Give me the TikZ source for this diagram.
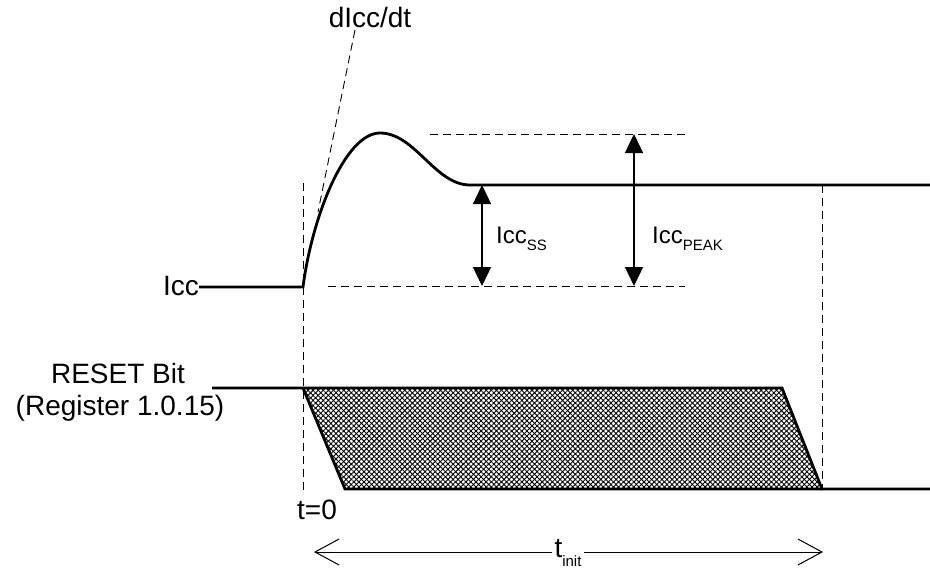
\documentclass[tikz,border=0pt]{standalone}
\usepackage{fontspec}
\setmainfont{Liberation Sans}
\usetikzlibrary{arrows.meta,patterns.meta}
\newcommand{\sub}[2][-7pt]{\raisebox{#1}{\fontsize{15}{15}\selectfont #2}}

\begin{document}
\begin{tikzpicture}[x=1pt,y=-1pt,
    lbl/.style={font=\fontsize{28}{32}\selectfont,inner sep=0pt},
    sm/.style={font=\fontsize{24}{26}\selectfont,inner sep=0pt,anchor=base west},
    sig/.style={line width=2.8pt,line join=miter},
    guide/.style={line width=.9pt,dash pattern=on 8pt off 5pt},
    meas/.style={{Triangle[length=19pt,width=18pt]}-{Triangle[length=19pt,width=18pt]},line width=1.3pt},
    span/.style={{Straight Barb[length=24pt,width=26pt]}-{Straight Barb[length=24pt,width=26pt]},line width=1pt}
  ]
    \useasboundingbox (0,0) rectangle (930,571);
    % Icc waveform
    \coordinate (i0) at (303,287); \coordinate (ipk) at (380,133);
    \coordinate (iss) at (470,185); \coordinate (iend) at (930,185);
    \node[lbl,anchor=east] (icc) at (199,286) {Icc};
    \draw[sig] (icc.east |- i0) -- (i0) .. controls (312,217) and (345,133) .. (ipk)
      .. controls (415,133) and (435,185) .. (iss) -- (iend);
    % slope marker
    \node[lbl] (didt) at (370,17) {dIcc/dt};
    \coordinate (tgtop) at (355,30); \coordinate (tgbot) at (318,212);
    \draw[guide] (tgtop) -- (tgbot);
    % levels
    \coordinate (pkl) at (430,134); \coordinate (pkr) at (685,134);
    \coordinate (bsl) at (328,286); \coordinate (bsr) at (685,286);
    \draw[guide] (pkl) -- (pkr); \draw[guide] (bsl) -- (bsr);
    \coordinate (ssa) at (482,185); \coordinate (ssb) at (482,286);
    \coordinate (pka) at (634,134); \coordinate (pkb) at (634,286);
    \draw[meas] (ssa) -- (ssb); \draw[meas] (pka) -- (pkb);
    \node[sm] (iccss) at (496,243) {Icc\sub{SS}};
    \node[sm] (iccpk) at (652,243) {Icc\sub{PEAK}};
    % time markers
    \coordinate (v0a) at (303,183); \coordinate (v0b) at (303,490);
    \coordinate (v1a) at (822,185); \coordinate (v1b) at (822,489);
    \draw[guide] (v0a) -- (v0b); \draw[guide] (v1a) -- (v1b);
    \node[lbl] (tzero) at (317,510) {t=0};
    % RESET bit
    \node[lbl] (rst) at (118,373) {RESET Bit};
    \node[lbl] (reg) at (120,408) {(Register 1.0.15)};
    \coordinate (r0) at (212,388); \coordinate (ra) at (303,388); \coordinate (rb) at (782,388);
    \coordinate (rc) at (822,489); \coordinate (rd) at (345,489); \coordinate (re) at (930,489);
    \foreach \a in {45,-45} {\fill[pattern={Lines[angle=\a,distance=3.6pt,line width=.9pt]}] (ra) -- (rb) -- (rc) -- (rd) -- cycle;}
    \draw[sig] (r0) -- (rb) -- (rc) -- (re);
    \draw[sig] (ra) -- (rd) -- (rc);
    % init time
    \coordinate (ta) at (314,552); \coordinate (tb) at (823,552);
    \draw[span] (ta) -- (tb);
    \node[lbl,fill=white,inner xsep=3pt] (tinit) at (568,553) {t\sub[-9pt]{init}};
\end{tikzpicture}
\end{document}
